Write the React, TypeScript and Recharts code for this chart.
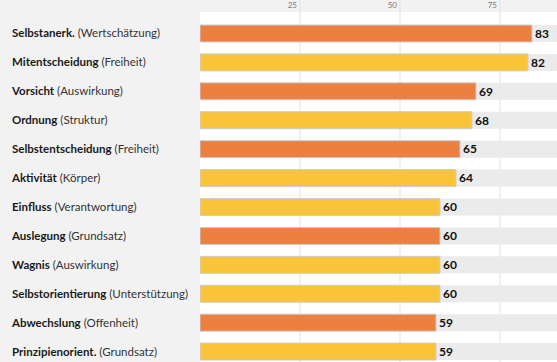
import { BarChart, Bar, XAxis, YAxis, CartesianGrid, Cell, LabelList } from 'recharts'

document.body.style.margin = '0'

const labels = [
  'Selbstanerk.',
  'Mitentscheidung',
  'Vorsicht',
  'Ordnung',
  'Selbstentscheidung',
  'Aktivität',
  'Einfluss',
  'Auslegung',
  'Wagnis',
  'Selbstorientierung',
  'Abwechslung',
  'Prinzipienorient.'
]
const groups = [
  'Wertschätzung',
  'Freiheit',
  'Auswirkung',
  'Struktur',
  'Freiheit',
  'Körper',
  'Verantwortung',
  'Grundsatz',
  'Auswirkung',
  'Unterstützung',
  'Offenheit',
  'Grundsatz'
]
const values = [83, 82, 69, 68, 65, 64, 60, 60, 60, 60, 59, 59]
const highlighted = [true, false, true, false, true, false, false, true, false, false, true, false]
const xTicks = [25, 50, 75]

const ORANGE = '#ec8040'
const YELLOW = '#f9c43a'
const FONT = 'Lato, "Noto Sans", sans-serif'

const data = labels.map((label, i) => ({
  key: String(i),
  label,
  group: groups[i],
  value: values[i],
  highlighted: highlighted[i]
}))

const YTick = (props: any) => {
  const { y, payload } = props
  const row = data[Number(payload.value)]
  return (
    <text x={12} y={y} dy={4} fontFamily={FONT} fontSize={11.5} textAnchor="start">
      <tspan fontWeight={700} fill="#1a1a1a">{row.label}</tspan>
      <tspan fill="#333"> ({row.group})</tspan>
    </text>
  )
}

const XTick = (props: any) => {
  const { x, payload } = props
  return (
    <text x={x - 3} y={8} fontFamily={FONT} fontSize={8} fill="#777" textAnchor="end">
      {payload.value}
    </text>
  )
}

const App = () => {
  return (
    <div style={{ width: 557, height: 362, overflow: 'hidden', background: '#f2f2f2' }}>
      <BarChart
        width={557}
        height={366}
        data={data}
        layout="vertical"
        margin={{ top: 0, right: 0, bottom: 0, left: 0 }}
        barSize={17}
      >
        <CartesianGrid horizontal={false} fill="#ffffff" stroke="#e2e2e2" verticalValues={xTicks} />
        <XAxis
          type="number"
          orientation="top"
          domain={[0, 89.25]}
          ticks={xTicks}
          height={12}
          axisLine={false}
          tickLine={{ stroke: '#e2e2e2' }}
          tickSize={12}
          tick={<XTick />}
          allowDataOverflow
        />
        <YAxis
          type="category"
          dataKey="key"
          width={200}
          axisLine={false}
          tickLine={false}
          tick={<YTick />}
          padding={{ top: 7, bottom: 0 }}
          interval={0}
        />
        <Bar
          dataKey="value"
          isAnimationActive={false}
          background={{ fill: '#ebebeb' }}
          stroke="#c9ced4"
          strokeWidth={1}
        >
          {data.map((d) => (
            <Cell key={d.key} fill={d.highlighted ? ORANGE : YELLOW} />
          ))}
          <LabelList
            dataKey="value"
            position="right"
            offset={3}
            fill="#111"
            fontFamily={FONT}
            fontWeight={700}
            fontSize={12}
          />
        </Bar>
      </BarChart>
    </div>
  )
}

export default App
